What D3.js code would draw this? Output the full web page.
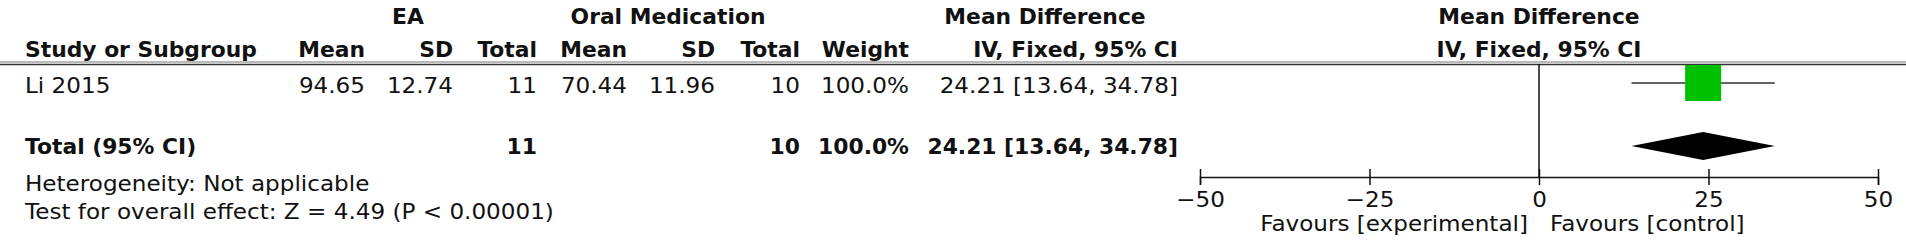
<!DOCTYPE html>
<html>
<head>
<meta charset="utf-8">
<script src="https://cdn.jsdelivr.net/npm/d3@7"></script>
<style>
  body { margin: 0; background: #fff; }
  svg text { font-family: "DejaVu Sans", sans-serif; font-size: 21px; fill: #111; }
  .b { font-weight: bold; }
</style>
</head>
<body>
<svg id="chart" width="1906" height="245"></svg>
<script>
// data
var studies = ["Li 2015"];
var eaMean = [94.65], eaSD = [12.74], eaTotal = [11];
var omMean = [70.44], omSD = [11.96], omTotal = [10];
var weights = ["100.0%"];
var md = [24.21], mdLo = [13.64], mdHi = [34.78];
var totalEA = 11, totalOM = 10, totalWeight = "100.0%";
var totalMD = 24.21, totalLo = 13.64, totalHi = 34.78;
var axisTicks = [-50, -25, 0, 25, 50];
var footLines = ["Heterogeneity: Not applicable", "Test for overall effect: Z = 4.49 (P < 0.00001)"];

var svg = d3.select("#chart");

// column right edges for the table
var col = { study: 25, eaMean: 365, eaSD: 453, eaTotal: 537, omMean: 627, omSD: 715, omTotal: 800, weight: 909, md: 1178 };
var rowY = { h1: 24, h2: 57, study: 93, total: 154, foot: [191, 219] };

// the source font is wider than DejaVu, so stretch text a little horizontally
function txt(x, y, s, anchor, bold) {
  svg.append("text")
    .attr("transform", "translate(" + x + "," + y + ") scale(" + (bold ? 1.04 : 1.1) + ",1)")
    .attr("text-anchor", anchor || "end")
    .attr("class", bold ? "b" : null)
    .text(s);
}

// headers
txt(408, rowY.h1, "EA", "middle", true);
txt(668, rowY.h1, "Oral Medication", "middle", true);
txt(1045, rowY.h1, "Mean Difference", "middle", true);
txt(1539, rowY.h1, "Mean Difference", "middle", true);

txt(col.study, rowY.h2, "Study or Subgroup", "start", true);
txt(col.eaMean, rowY.h2, "Mean", "end", true);
txt(col.eaSD, rowY.h2, "SD", "end", true);
txt(col.eaTotal, rowY.h2, "Total", "end", true);
txt(col.omMean, rowY.h2, "Mean", "end", true);
txt(col.omSD, rowY.h2, "SD", "end", true);
txt(col.omTotal, rowY.h2, "Total", "end", true);
txt(col.weight, rowY.h2, "Weight", "end", true);
txt(col.md, rowY.h2, "IV, Fixed, 95% CI", "end", true);
txt(1539, rowY.h2, "IV, Fixed, 95% CI", "middle", true);

// double rule under header
svg.append("line").attr("x1", 0).attr("x2", 1906).attr("y1", 62).attr("y2", 62)
  .attr("stroke", "#777").attr("stroke-width", 1.2);
svg.append("line").attr("x1", 0).attr("x2", 1906).attr("y1", 64.5).attr("y2", 64.5)
  .attr("stroke", "#333").attr("stroke-width", 1.4);

var f2 = d3.format(".2f");
function ciText(m, lo, hi) { return f2(m) + " [" + f2(lo) + ", " + f2(hi) + "]"; }

// study rows
studies.forEach(function (s, i) {
  var y = rowY.study;
  txt(col.study, y, s, "start");
  txt(col.eaMean, y, f2(eaMean[i]));
  txt(col.eaSD, y, f2(eaSD[i]));
  txt(col.eaTotal, y, eaTotal[i]);
  txt(col.omMean, y, f2(omMean[i]));
  txt(col.omSD, y, f2(omSD[i]));
  txt(col.omTotal, y, omTotal[i]);
  txt(col.weight, y, weights[i]);
  txt(col.md, y, ciText(md[i], mdLo[i], mdHi[i]));
});

// total row
txt(col.study, rowY.total, "Total (95% CI)", "start", true);
txt(col.eaTotal, rowY.total, totalEA, "end", true);
txt(col.omTotal, rowY.total, totalOM, "end", true);
txt(col.weight, rowY.total, totalWeight, "end", true);
txt(col.md, rowY.total, ciText(totalMD, totalLo, totalHi), "end", true);

footLines.forEach(function (s, i) {
  txt(col.study, rowY.foot[i], s, "start");
});

// forest plot
var x = d3.scaleLinear().domain([-50, 50]).range([1200, 1878]);
var axisY = 177;

// line of no effect
svg.append("line")
  .attr("x1", x(0)).attr("x2", x(0))
  .attr("y1", 64).attr("y2", axisY)
  .attr("stroke", "#111").attr("stroke-width", 1.5);

// study CI and square
var sqY = 83, sq = 36;
studies.forEach(function (s, i) {
  svg.append("line")
    .attr("x1", x(mdLo[i])).attr("x2", x(mdHi[i]))
    .attr("y1", sqY).attr("y2", sqY)
    .attr("stroke", "#333").attr("stroke-width", 1.5);
  svg.append("rect")
    .attr("x", x(md[i]) - sq / 2).attr("y", sqY - sq / 2)
    .attr("width", sq).attr("height", sq)
    .attr("fill", "#00c000");
});

// diamond for total
var dY = 146, dH = 14;
svg.append("path")
  .attr("d", "M" + x(totalLo) + "," + dY +
    "L" + x(totalMD) + "," + (dY - dH) +
    "L" + x(totalHi) + "," + dY +
    "L" + x(totalMD) + "," + (dY + dH) + "Z")
  .attr("fill", "#000");

// axis
var g = svg.append("g").attr("transform", "translate(0," + axisY + ")")
  .call(d3.axisBottom(x).tickValues(axisTicks).tickSizeOuter(0).tickSize(8).tickPadding(10));
g.select(".domain").attr("stroke", "#111").attr("stroke-width", 1.5);
g.selectAll(".tick line").attr("y1", -8).attr("y2", 8).attr("stroke", "#111").attr("stroke-width", 1.5);
g.selectAll(".tick text")
  .attr("font-size", null).attr("font-family", null)
  .attr("y", 30).attr("dy", null)
  .attr("transform", "scale(1.1,1)");

txt(x(0) - 11, 231, "Favours [experimental]", "end");
txt(x(0) + 11, 231, "Favours [control]", "start");
</script>
</body>
</html>
